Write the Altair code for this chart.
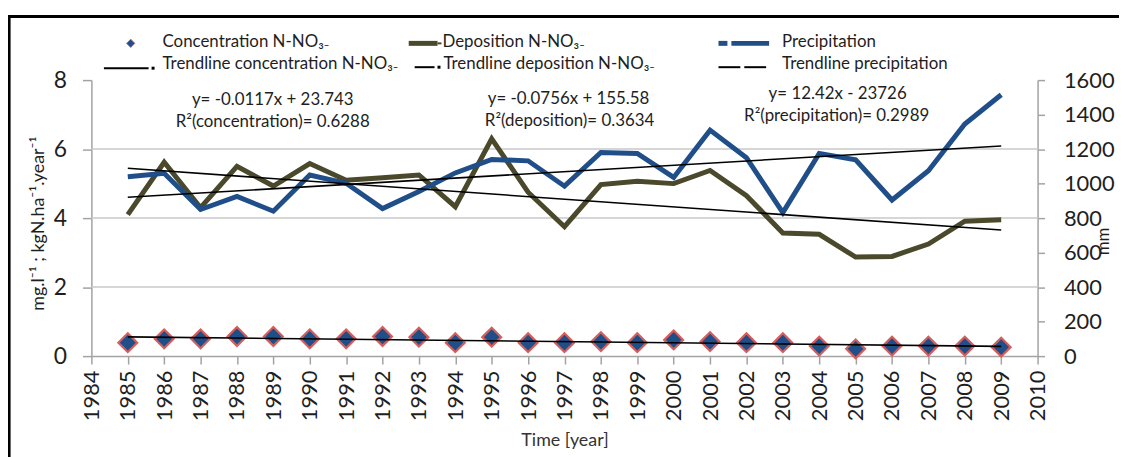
import altair as alt
import pandas as pd

# ---------------- data ----------------
years = list(range(1985, 2010))
concentration = [0.39, 0.50, 0.50, 0.57, 0.57, 0.50, 0.50, 0.57, 0.55, 0.39, 0.55, 0.39,
                 0.39, 0.42, 0.39, 0.47, 0.42, 0.39, 0.39, 0.29, 0.21, 0.29, 0.29, 0.29, 0.26]
deposition = [4.10, 5.62, 4.30, 5.50, 4.93, 5.58, 5.10, 5.17, 5.25, 4.33, 6.30, 4.75,
              3.75, 4.97, 5.07, 5.00, 5.38, 4.65, 3.57, 3.53, 2.87, 2.89, 3.25, 3.91, 3.95]
precipitation = [1040, 1060, 850, 926, 840, 1050, 1002, 855, 954, 1062, 1140, 1132,
                 985, 1180, 1175, 1036, 1310, 1150, 832, 1175, 1138, 905, 1075, 1345, 1515]
x_ticks = list(range(1984, 2011))
left_ticks = [0, 2, 4, 6, 8]
right_ticks = [0, 200, 400, 600, 800, 1000, 1200, 1400, 1600]
grid_values = [2, 4, 6]

legend_labels = ["Concentration N-NO\u2083\u208b", "Deposition N-NO\u2083\u208b", "Precipitation",
                 "Trendline concentration N-NO\u2083\u208b", "Trendline deposition N-NO\u2083\u208b",
                 "Trendline precipitation"]
equations = [("y= -0.0117x + 23.743", "R\u00b2(concentration)= 0.6288"),
             ("y= -0.0756x + 155.58", "R\u00b2(deposition)= 0.3634"),
             ("y= 12.42x - 23726", "R\u00b2(precipitation)= 0.2989")]
left_title = "mg.l\u207b\u00b9 ; kgN.ha\u207b\u00b9.year\u207b\u00b9"
right_title = "mm"
x_title = "Time [year]"

# ---------------- layout / style ----------------
W, H = 953, 278
OX, OY = 92.4, 79.0          # page position of plot origin
PAD_L, PAD_T = 84, 71
FONT = "Lato"
BLUE = "#1F4E89"
OLIVE = "#4A492C"
AX = "#a3a3a3"
TXT = "#1e1e1e"

df = pd.DataFrame({"year": years, "conc": concentration, "dep": deposition, "prec": precipitation})
grid_df = pd.DataFrame({"g": grid_values})
one = pd.DataFrame({"k": [0]})

x_axis = alt.Axis(values=x_ticks, format="d", labelAngle=270, labelFontSize=22, labelFont=FONT,
                  labelColor=TXT, labelPadding=6, labelOverlap=False, labelFlush=False,
                  tickSize=8, tickColor=AX, tickWidth=1.5, domainColor=AX, domainWidth=1.5,
                  grid=False, title=x_title, titleFont=FONT, titleFontSize=18,
                  titleFontWeight="normal", titleColor="#333333", titlePadding=11)
X = alt.X("year:Q", scale=alt.Scale(domain=[1984, 2010], nice=False, zero=False), axis=x_axis)

left_axis = alt.Axis(values=left_ticks, format="d", labelFontSize=23, labelFont=FONT,
                     labelColor=TXT, labelPadding=16, tickSize=9, tickColor=AX, tickWidth=1.5,
                     domainColor=AX, domainWidth=1.5, grid=False, title=left_title,
                     titleFont=FONT, titleFontSize=18, titleFontWeight="normal", titleColor=TXT,
                     titleAngle=270, titleX=-53, titleY=144, titleAlign="center",
                     titleBaseline="middle")
right_axis = alt.Axis(orient="right", values=right_ticks, format="d", labelFontSize=22,
                      labelFont=FONT, labelColor=TXT, labelPadding=19, tickSize=7,
                      tickColor=AX, tickWidth=1.5, domainColor=AX, domainWidth=1.5, grid=False,
                      title=right_title, titleFont=FONT, titleFontSize=17,
                      titleFontWeight="normal", titleColor=TXT, titleAngle=270, titleX=66,
                      titleY=162, titleAlign="center", titleBaseline="middle")

left_scale = alt.Scale(domain=[0, 8], nice=False, zero=True)
right_scale = alt.Scale(domain=[0, 1600], nice=False, zero=True)


def yL(field, axis=left_axis):
    return alt.Y(f"{field}:Q", scale=left_scale, axis=axis)


def yR(field):
    return alt.Y(f"{field}:Q", scale=right_scale, axis=right_axis)


# ---- left group: grid + deposition line
grid = alt.Chart(grid_df).mark_rule(color="#c9c9c9", strokeWidth=1.5).encode(y=yL("g"))
dep_line = alt.Chart(df).mark_line(color=OLIVE, strokeWidth=5).encode(x=X, y=yL("dep"))
left_group = alt.layer(grid, dep_line)

# ---- right group: precipitation
prec_line = alt.Chart(df).mark_line(color=BLUE, strokeWidth=5).encode(x=X, y=yR("prec"))
prec_trend = (alt.Chart(df).transform_regression("year", "prec", extent=[1985, 2009])
              .mark_line(color="black", strokeWidth=1.6).encode(x=X, y=yR("prec")))
right_group = alt.layer(prec_line, prec_trend)

# ---- top group (left scale, no axis): trends + concentration
dep_trend = (alt.Chart(df).transform_regression("year", "dep", extent=[1985, 2009])
             .mark_line(color="black", strokeWidth=1.6).encode(x=X, y=yL("dep", None)))
conc_pts = (alt.Chart(df).mark_point(shape="diamond", filled=True, size=360, fill=BLUE,
                                     stroke="#D45E5C", strokeWidth=2.2, opacity=1)
            .encode(x=X, y=yL("conc", None)))
conc_trend = (alt.Chart(df).transform_regression("year", "conc", extent=[1985, 2009])
              .mark_line(color="black", strokeWidth=1.6).encode(x=X, y=yL("conc", None)))
top_group = alt.layer(dep_trend, conc_pts, conc_trend)


# ---- decorations (page coordinates converted to plot coordinates)
def px(v):
    return v - OX


def py(v):
    return v - OY


def text_at(txt, x, y, size=17, align="left"):
    return alt.Chart(one).mark_text(text=txt, font=FONT, fontSize=size, color=TXT, align=align,
                                    baseline="middle").encode(x=alt.value(px(x)), y=alt.value(py(y)))


def hline(x1, x2, y, color, width):
    return alt.Chart(one).mark_rule(color=color, strokeWidth=width).encode(
        x=alt.value(px(x1)), x2=alt.value(px(x2)), y=alt.value(py(y)))


frame = alt.Chart(one).mark_rect(filled=False, stroke="black", strokeWidth=3).encode(
    x=alt.value(px(9.5)), x2=alt.value(px(1200)), y=alt.value(py(15)), y2=alt.value(py(520)))

legend_diamond = alt.Chart(one).mark_point(shape="diamond", filled=True, size=70, fill=BLUE,
                                           stroke="#D45E5C", strokeWidth=1, opacity=1).encode(
    x=alt.value(px(132)), y=alt.value(py(42)))

deco = [
    frame,
    legend_diamond,
    text_at(legend_labels[0], 164, 41),
    hline(412, 441, 42, OLIVE, 5), hline(441, 445, 42, OLIVE, 2),
    text_at(legend_labels[1], 446, 41),
    hline(724, 733, 42, BLUE, 5), hline(737, 775, 42, BLUE, 5),
    text_at(legend_labels[2], 788, 41),
    hline(105, 150, 67, "black", 2), hline(153, 156, 67, "black", 3),
    text_at(legend_labels[3], 164, 63),
    hline(418, 438, 66, "black", 2), hline(441, 444, 66, "black", 3),
    text_at(legend_labels[4], 447, 63),
    hline(724, 746, 66, "black", 2), hline(750, 772, 66, "black", 2),
    text_at(legend_labels[5], 788, 63),
    text_at(equations[0][0], 275, 99, 17, "center"),
    text_at(equations[0][1], 275, 121, 17, "center"),
    text_at(equations[1][0], 573, 98, 17, "center"),
    text_at(equations[1][1], 574, 120, 17, "center"),
    text_at(equations[2][0], 844, 93, 17, "center"),
    text_at(equations[2][1], 843, 115, 17, "center"),
]

chart = (alt.layer(left_group, right_group, top_group, *deco)
         .resolve_scale(y="independent")
         .properties(width=W, height=H, autosize=alt.AutoSizeParams(type="none"),
                     padding={"left": PAD_L, "top": PAD_T, "right": 1119 - PAD_L - W,
                              "bottom": 449 - PAD_T - H},
                     background="white")
         .configure_view(strokeWidth=0))

chart.save("out.html", embed_options={"renderer": "svg", "actions": False})
